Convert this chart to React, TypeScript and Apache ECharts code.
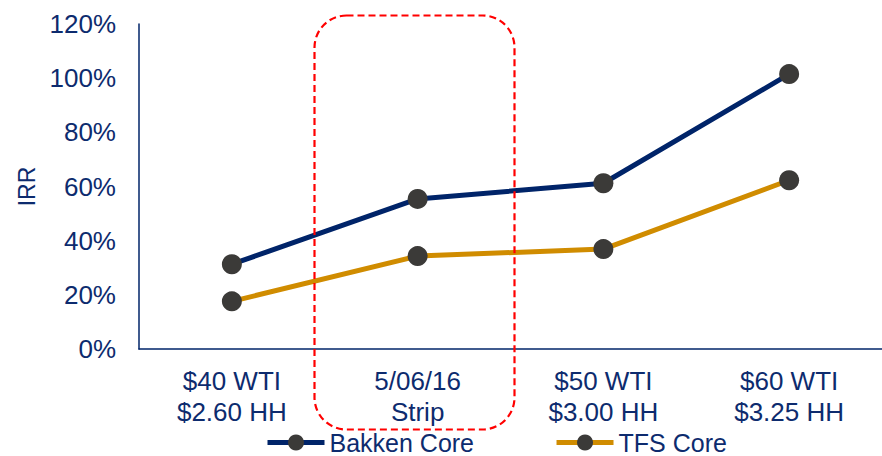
import React, { useEffect, useRef } from "react";
import * as echarts from "echarts";

const categories = ["$40 WTI\n$2.60 HH", "5/06/16\nStrip", "$50 WTI\n$3.00 HH", "$60 WTI\n$3.25 HH"];
const bakkenCore = [31.3, 55.4, 61.2, 101.5];
const tfsCore = [17.6, 34.3, 36.9, 62.3];
const yTicks = [0, 20, 40, 60, 80, 100, 120];

const NAVY = "#002469";
const GOLD = "#D08C00";
const MARKER = "#3B3A38";
const TEXT = "#0D2B6E";
const FONT = "'Liberation Sans', Arial, sans-serif";

export default function App() {
  const ref = useRef<HTMLDivElement>(null);
  useEffect(() => {
    const chart = echarts.init(ref.current!, undefined, { renderer: "svg" });
    chart.setOption({
      animation: false,
      textStyle: { fontFamily: FONT },
      grid: { left: 139, top: 24, width: 744, height: 325, containLabel: false },
      legend: {
        left: 265,
        top: 430,
        padding: 0,
        itemWidth: 57,
        itemHeight: 20,
        itemGap: 80,
        textStyle: { color: TEXT, fontSize: 25, lineHeight: 20, fontFamily: FONT },
        data: [
          { name: "Bakken Core", lineStyle: { width: 5, color: NAVY } },
          { name: "TFS Core", lineStyle: { width: 5, color: GOLD } },
        ],
      },
      xAxis: {
        type: "category",
        data: categories,
        boundaryGap: true,
        axisLine: { lineStyle: { color: NAVY, width: 1.5 } },
        axisTick: { show: false },
        axisLabel: { color: TEXT, fontSize: 26, lineHeight: 31, margin: 16, fontFamily: FONT, interval: 0 },
      },
      yAxis: {
        type: "value",
        min: yTicks[0],
        max: yTicks[yTicks.length - 1],
        interval: 20,
        name: "IRR",
        nameLocation: "middle",
        nameGap: 100,
        nameRotate: 90,
        nameTextStyle: { color: TEXT, fontSize: 23, fontFamily: FONT },
        axisLine: { show: true, lineStyle: { color: NAVY, width: 1.5 } },
        axisTick: { show: false },
        splitLine: { show: false },
        axisLabel: { color: TEXT, fontSize: 26, margin: 23, fontFamily: FONT, formatter: "{value}%" },
      },
      series: [
        {
          name: "Bakken Core",
          type: "line",
          data: bakkenCore,
          symbol: "circle",
          symbolSize: 20,
          lineStyle: { color: NAVY, width: 5 },
          itemStyle: { color: MARKER, borderWidth: 0 },
          color: NAVY,
        },
        {
          name: "TFS Core",
          type: "line",
          data: tfsCore,
          symbol: "circle",
          symbolSize: 20,
          lineStyle: { color: GOLD, width: 5 },
          itemStyle: { color: MARKER, borderWidth: 0 },
          color: GOLD,
        },
      ],
      graphic: [
        {
          type: "rect",
          left: 312,
          top: 13,
          shape: { x: 0, y: 0, width: 200, height: 414, r: 32 },
          style: { fill: "none", stroke: "#FF0000", lineWidth: 2.2, lineDash: [7, 4] },
          z: 10,
        },
      ],
    });
    return () => chart.dispose();
  }, []);
  return (
    <div
      ref={ref}
      style={{ position: "absolute", left: 0, top: 0, width: 882, height: 456 }}
    />
  );
}
